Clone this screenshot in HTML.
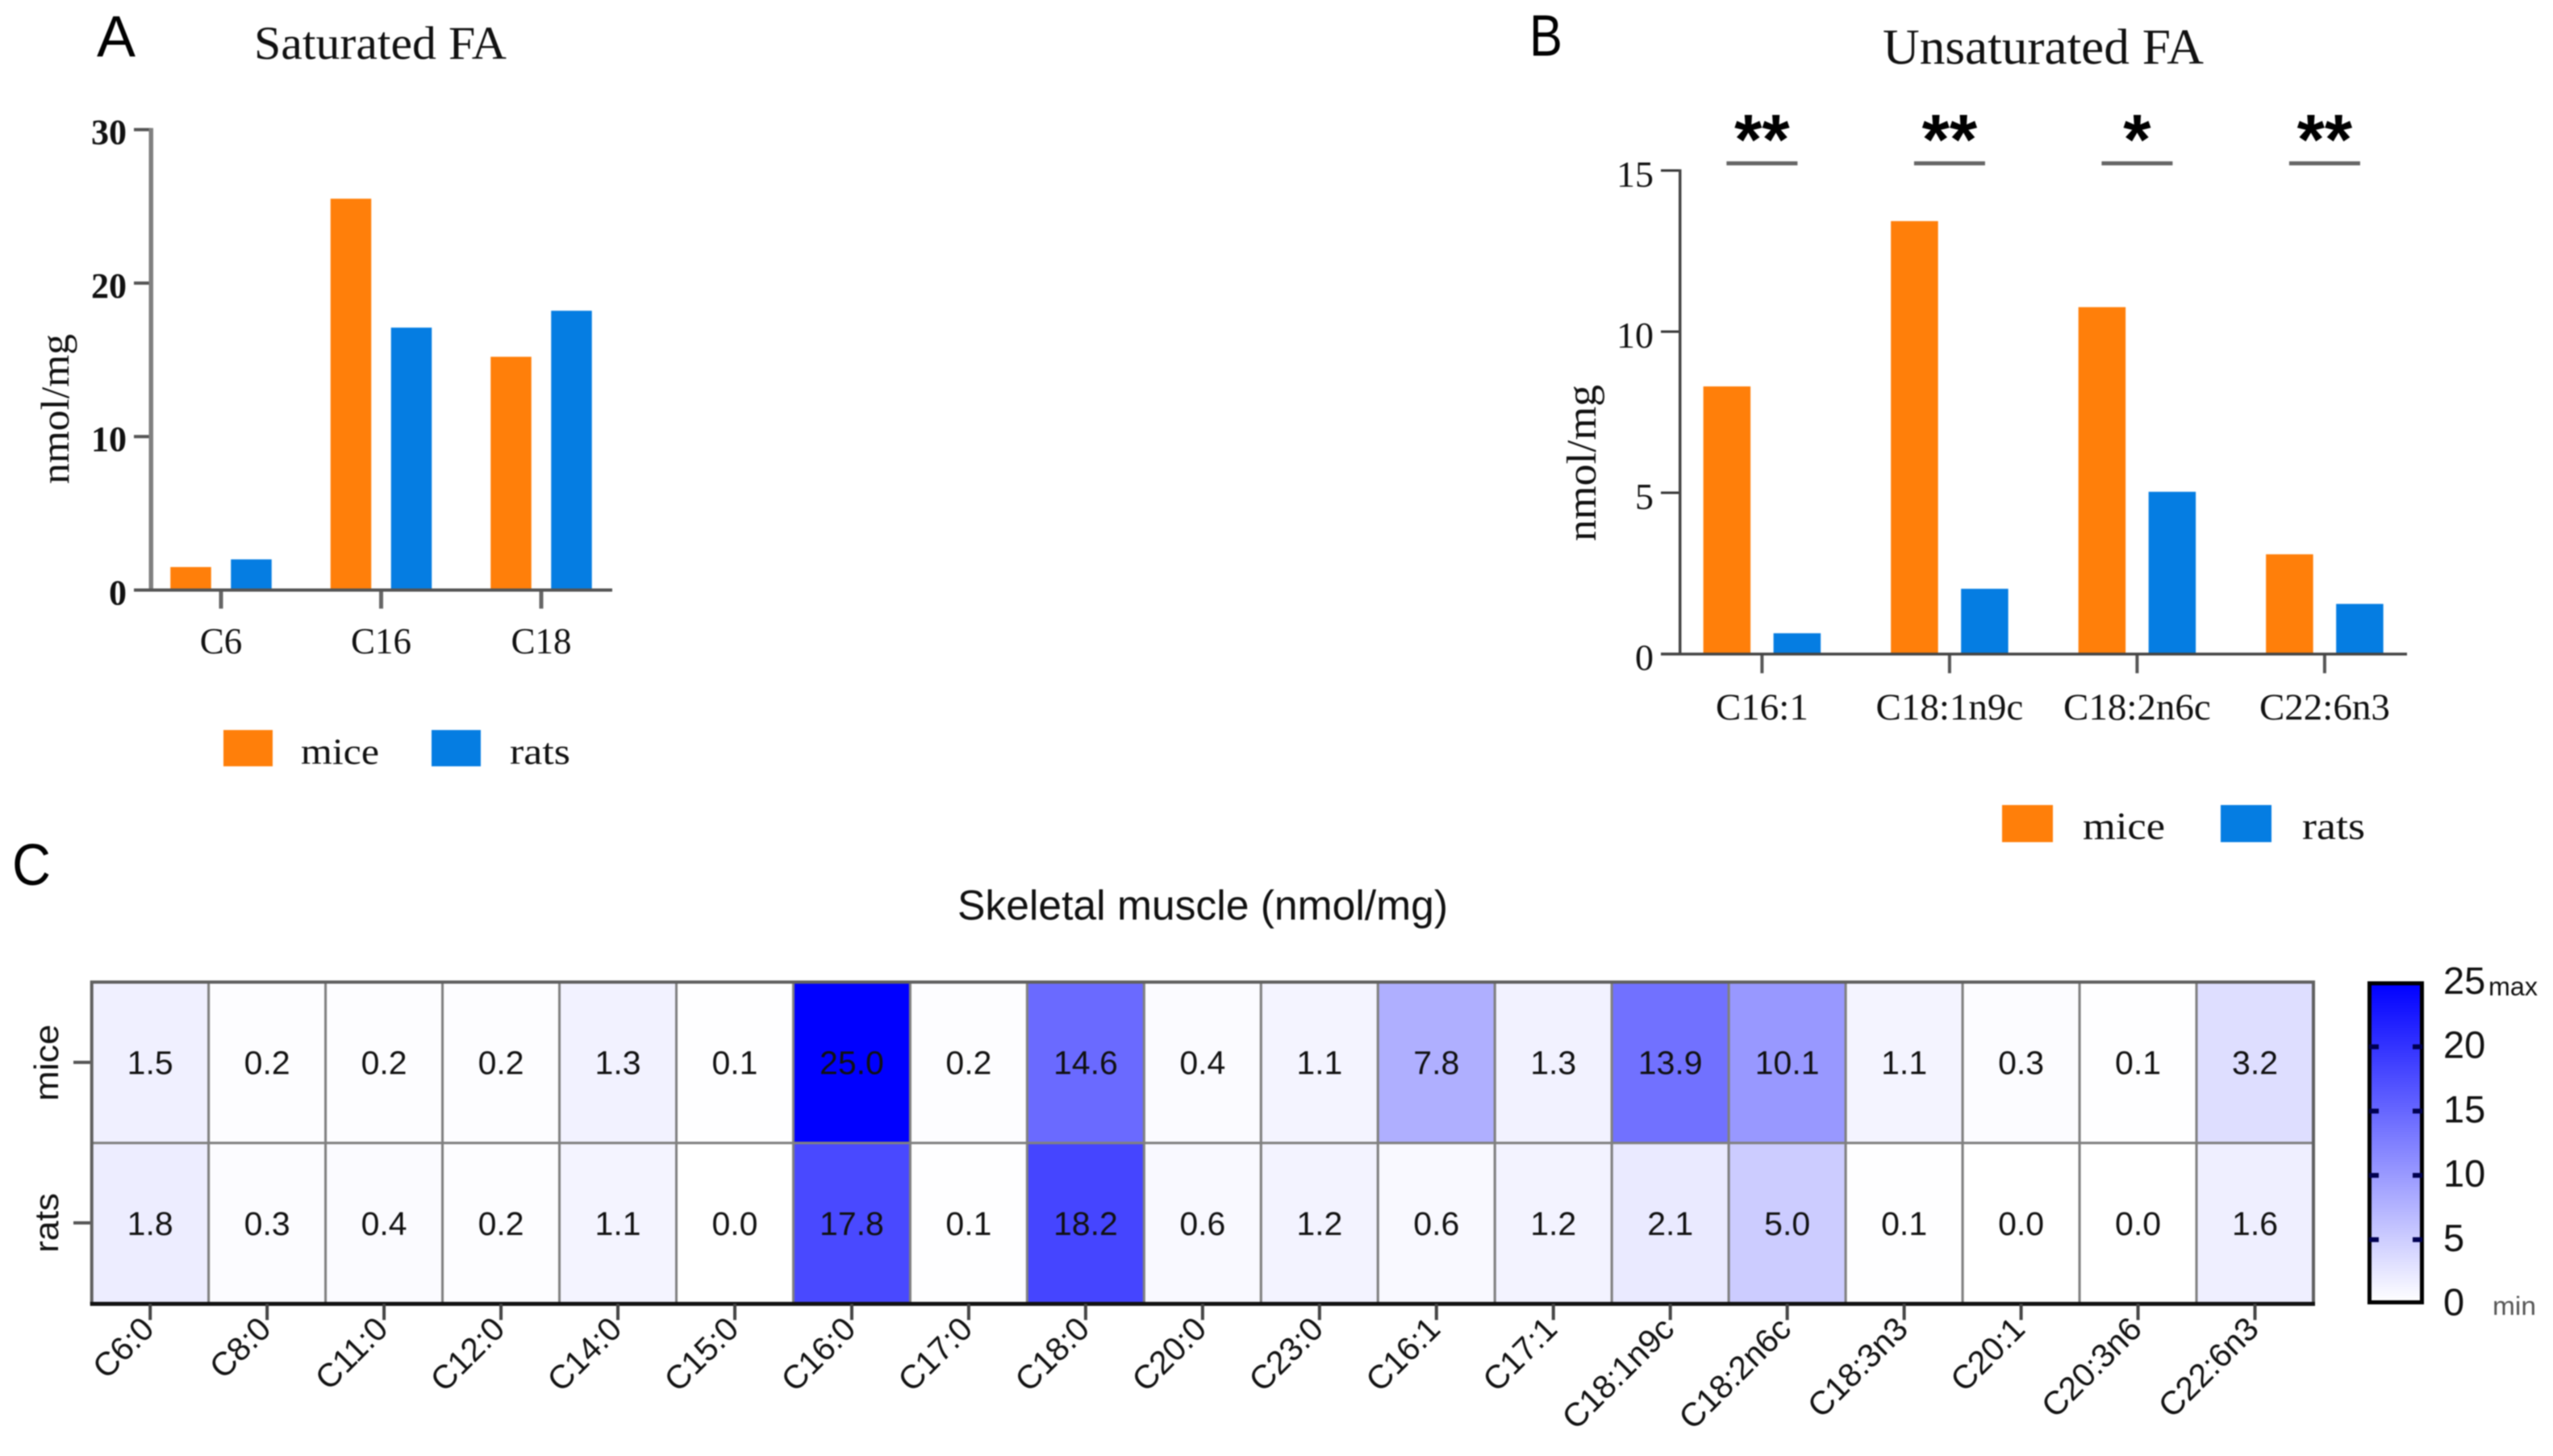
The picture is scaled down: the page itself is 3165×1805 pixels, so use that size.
<!DOCTYPE html>
<html lang="en">
<head>
<meta charset="utf-8">
<title>Fatty acid levels in mice and rats</title>
<style>
html,body{margin:0;padding:0;background:#fff;width:3165px;height:1805px;overflow:hidden}
svg{display:block;filter:blur(0.7px)}
.serif{font-family:"Liberation Serif",serif}
.sans{font-family:"Liberation Sans",sans-serif}
</style>
</head>
<body>
<svg id="fig" xmlns="http://www.w3.org/2000/svg" width="3165" height="1805" viewBox="0 0 3165 1805">
  <defs>
    <linearGradient id="cbGrad" x1="0" y1="0" x2="0" y2="1">
      <stop offset="0" stop-color="#0000ff"/>
      <stop offset="1" stop-color="#ffffff"/>
    </linearGradient>
  </defs>
  <rect x="0" y="0" width="3165" height="1805" fill="#fff"/>

  <text class="sans" x="120" y="70" font-size="72" fill="#000" textLength="48" lengthAdjust="spacingAndGlyphs">A</text>
  <text class="sans" x="1896" y="69" font-size="72" fill="#000" textLength="41" lengthAdjust="spacingAndGlyphs">B</text>
  <text class="sans" x="15" y="1097" font-size="72" fill="#000" textLength="48" lengthAdjust="spacingAndGlyphs">C</text>

  <text class="serif" x="315" y="73" font-size="58" fill="#111" textLength="313" lengthAdjust="spacingAndGlyphs">Saturated FA</text>
  <text class="serif" x="2334" y="79" font-size="62" fill="#111" textLength="398" lengthAdjust="spacingAndGlyphs">Unsaturated FA</text>
  <text class="sans" x="1187" y="1140" font-size="52" fill="#111" textLength="608" lengthAdjust="spacingAndGlyphs">Skeletal muscle (nmol/mg)</text>

  <text class="serif" transform="translate(85,600) rotate(-90)" font-size="50" fill="#111" textLength="186" lengthAdjust="spacingAndGlyphs">nmol/mg</text>
  <text class="serif" transform="translate(1978,671) rotate(-90)" font-size="52" fill="#111" textLength="194" lengthAdjust="spacingAndGlyphs">nmol/mg</text>

  <rect x="277" y="905" width="61" height="45" fill="#ff7f0a"/>
  <text class="serif" x="373" y="947" font-size="46" fill="#111" textLength="97" lengthAdjust="spacingAndGlyphs">mice</text>
  <rect x="535" y="905" width="61" height="45" fill="#057de2"/>
  <text class="serif" x="632" y="947" font-size="46" fill="#111" textLength="75" lengthAdjust="spacingAndGlyphs">rats</text>

  <rect x="2482" y="998" width="63" height="46" fill="#ff7f0a"/>
  <text class="serif" x="2582" y="1040" font-size="48" fill="#111" textLength="102" lengthAdjust="spacingAndGlyphs">mice</text>
  <rect x="2753" y="998" width="63" height="46" fill="#057de2"/>
  <text class="serif" x="2854" y="1040" font-size="48" fill="#111" textLength="78" lengthAdjust="spacingAndGlyphs">rats</text>

  <text class="sans" transform="translate(72,1365) rotate(-90)" font-size="42" fill="#111" textLength="95" lengthAdjust="spacingAndGlyphs">mice</text>
  <text class="sans" transform="translate(72,1553) rotate(-90)" font-size="42" fill="#111" textLength="74" lengthAdjust="spacingAndGlyphs">rats</text>
  <rect x="91" y="1315" width="22" height="4" fill="#555"/>
  <rect x="91" y="1514" width="22" height="4" fill="#555"/>

  <rect x="2937.5" y="1219" width="65" height="395.5" fill="url(#cbGrad)" stroke="#000" stroke-width="5"/>
  <text class="sans" x="3085" y="1234" font-size="32" fill="#111" textLength="61" lengthAdjust="spacingAndGlyphs">max</text>
  <text class="sans" x="3090" y="1630" font-size="32" fill="#555" textLength="54" lengthAdjust="spacingAndGlyphs">min</text>

  <g id="chartA"></g>
  <g id="chartB"></g>
  <g id="heat"></g>
  <g id="cbar"></g>
</svg>

<script>
// Panel A data
const satCategories = ['C6', 'C16', 'C18'];
const satMice = [1.5, 25.5, 15.2];
const satRats = [2.0, 17.1, 18.2];
const satTicks = [0, 10, 20, 30];

// Panel B data
const unsatCategories = ['C16:1', 'C18:1n9c', 'C18:2n6c', 'C22:6n3'];
const unsatMice = [8.3, 13.43, 10.76, 3.09];
const unsatRats = [0.64, 2.02, 5.03, 1.55];
const unsatTicks = [0, 5, 10, 15];
const unsatSignificance = ['**', '**', '*', '**'];

// Panel C data
const heatCategories = ['C6:0', 'C8:0', 'C11:0', 'C12:0', 'C14:0', 'C15:0', 'C16:0', 'C17:0', 'C18:0', 'C20:0', 'C23:0', 'C16:1', 'C17:1', 'C18:1n9c', 'C18:2n6c', 'C18:3n3', 'C20:1', 'C20:3n6', 'C22:6n3'];
const heatMice = [1.5, 0.2, 0.2, 0.2, 1.3, 0.1, 25.0, 0.2, 14.6, 0.4, 1.1, 7.8, 1.3, 13.9, 10.1, 1.1, 0.3, 0.1, 3.2];
const heatRats = [1.8, 0.3, 0.4, 0.2, 1.1, 0.0, 17.8, 0.1, 18.2, 0.6, 1.2, 0.6, 1.2, 2.1, 5.0, 0.1, 0.0, 0.0, 1.6];
const colorbarTicks = [0, 5, 10, 15, 20, 25];

const NS = 'http://www.w3.org/2000/svg';
const SERIF = '"Liberation Serif", serif';
const SANS = '"Liberation Sans", sans-serif';
const ORANGE = '#ff7f0a';
const BLUE = '#057de2';

function mk(parent, tag, attrs, txt) {
  const el = document.createElementNS(NS, tag);
  for (const k in attrs) el.setAttribute(k, attrs[k]);
  if (txt !== undefined) el.textContent = txt;
  parent.appendChild(el);
  return el;
}

// ---------- Panel A ----------
const gA = document.getElementById('chartA');
const yA = v => 731.5 - v * (731.5 - 160.7) / 30;
const xA = i => 274 + i * 198.5;
const barWA = 50.5;
const offA = 37.5;

satCategories.forEach((c, i) => {
  const m = mk(gA, 'rect', {x: xA(i) - offA - barWA / 2, y: yA(satMice[i]), width: barWA, height: yA(0) - yA(satMice[i]), fill: ORANGE});
  
  
  const r = mk(gA, 'rect', {x: xA(i) + offA - barWA / 2, y: yA(satRats[i]), width: barWA, height: yA(0) - yA(satRats[i]), fill: BLUE});
  
  
  const t = mk(gA, 'rect', {x: xA(i) - 2.5, y: yA(0), width: 5, height: 23, fill: '#666'});
  
  
  const l = mk(gA, 'text', {x: xA(i), y: 810, 'text-anchor': 'middle', 'font-family': SERIF, 'font-size': 45, fill: '#111'}, c);
  
  
});
satTicks.forEach(v => {
  const t = mk(gA, 'rect', {x: 166, y: yA(v) - 2, width: 21, height: 4, fill: '#555'});
  
  
  const l = mk(gA, 'text', {x: 157, y: yA(v) + 18, 'text-anchor': 'end', 'font-family': SERIF, 'font-weight': 'bold', 'font-size': 44, fill: '#111'}, String(v));
  
  
});
const axYA = mk(gA, 'rect', {x: 184.5, y: yA(30) - 2, width: 5.5, height: yA(0) - yA(30) + 4, fill: '#808080'});


const axXA = mk(gA, 'rect', {x: 166, y: yA(0) - 2, width: 593, height: 4, fill: '#555'});



// ---------- Panel B ----------
const gB = document.getElementById('chartB');
const yB = v => 810.6 - v * (810.6 - 211.4) / 15;
const xB = i => 2184.4 + i * 232.5;
const barWB = 58.5;
const offB = 43.5;

unsatCategories.forEach((c, i) => {
  const key = c.toLowerCase().replace(':', '-');
  const m = mk(gB, 'rect', {x: xB(i) - offB - barWB / 2, y: yB(unsatMice[i]), width: barWB, height: yB(0) - yB(unsatMice[i]), fill: ORANGE});
  
  
  const r = mk(gB, 'rect', {x: xB(i) + offB - barWB / 2, y: yB(unsatRats[i]), width: barWB, height: yB(0) - yB(unsatRats[i]), fill: BLUE});
  
  
  const t = mk(gB, 'rect', {x: xB(i) - 2, y: yB(0), width: 4, height: 24, fill: '#555'});
  
  
  const l = mk(gB, 'text', {x: xB(i), y: 892, 'text-anchor': 'middle', 'font-family': SERIF, 'font-size': 47, fill: '#111'}, c);
  
  
  const sb = mk(gB, 'rect', {x: xB(i) - 44, y: 200, width: 88, height: 5, fill: '#666'});
  
  
  const st = mk(gB, 'text', {x: xB(i), y: 203, 'text-anchor': 'middle', 'font-family': SANS, 'font-weight': 'bold', 'font-size': 88, fill: '#000'}, unsatSignificance[i]);
  
  
});
unsatTicks.forEach(v => {
  const t = mk(gB, 'rect', {x: 2059, y: yB(v) - 1.5, width: 23, height: 3, fill: '#333'});
  
  
  const l = mk(gB, 'text', {x: 2050, y: yB(v) + 20, 'text-anchor': 'end', 'font-family': SERIF, 'font-size': 46, fill: '#111'}, String(v));
  
  
});
const axYB = mk(gB, 'rect', {x: 2081, y: yB(15) - 1.5, width: 3.5, height: yB(0) - yB(15) + 3, fill: '#444'});


const axXB = mk(gB, 'rect', {x: 2059, y: yB(0) - 1.5, width: 925, height: 3.5, fill: '#444'});



// ---------- Panel C ----------
const gH = document.getElementById('heat');
const hLeft = 113.7, hRight = 2868, hTop = 1217.5, hBottom = 1616.4;
const cellW = (hRight - hLeft) / heatCategories.length;
const cellH = (hBottom - hTop) / 2;
const xH = i => hLeft + i * cellW;
const colorScale = v => {
  const t = Math.max(0, Math.min(1, v / 25));
  const c = Math.round(255 * (1 - t));
  return 'rgb(' + c + ',' + c + ',255)';
};
function drawRow(values, row, rowName) {
  values.forEach((v, i) => {
    const key = heatCategories[i].toLowerCase().replace(':', '-');
    const c = mk(gH, 'rect', {x: xH(i), y: hTop + row * cellH, width: cellW, height: cellH, fill: colorScale(v), stroke: '#808080', 'stroke-width': 3});
    
    
  });
  values.forEach((v, i) => {
    const key = heatCategories[i].toLowerCase().replace(':', '-');
    const t = mk(gH, 'text', {x: xH(i) + cellW / 2, y: hTop + row * cellH + 114, 'text-anchor': 'middle', 'font-family': SANS, 'font-size': 41, fill: '#111'}, v.toFixed(1));
    
    
  });
}
drawRow(heatMice, 0, 'mice');
drawRow(heatRats, 1, 'rats');

const frame = mk(gH, 'path', {d: 'M' + hLeft + ' ' + hBottom + 'V' + hTop + 'H' + hRight + 'V' + hBottom, fill: 'none', stroke: '#606060', 'stroke-width': 4});


const hAxis = mk(gH, 'rect', {x: hLeft - 2, y: hBottom - 2.5, width: hRight - hLeft + 4, height: 5, fill: '#111'});



heatCategories.forEach((c, i) => {
  const key = c.toLowerCase().replace(':', '-');
  const cx = xH(i) + cellW / 2;
  const t = mk(gH, 'rect', {x: cx - 2, y: hBottom, width: 4, height: 20, fill: '#444'});
  
  
  const l = mk(gH, 'text', {transform: 'translate(' + (cx + 7) + ',1650) rotate(-45)', 'text-anchor': 'end', 'font-family': SANS, 'font-size': 41, fill: '#111'}, c);
  
  
});

// ---------- Colorbar ----------
const gC = document.getElementById('cbar');
const yC = v => 1616.5 - v * (1616.5 - 1218) / 25;
colorbarTicks.forEach(v => {
  if (v > 0 && v < 25) {
    const a = mk(gC, 'rect', {x: 2937, y: yC(v) - 3, width: 12, height: 6, fill: '#000050'});
    
    
    const b = mk(gC, 'rect', {x: 2991, y: yC(v) - 3, width: 12, height: 6, fill: '#000050'});
    
    
  }
  const l = mk(gC, 'text', {x: 3029, y: yC(v) + 14, 'font-family': SANS, 'font-size': 47, fill: '#111'}, String(v));
  
  
});
</script>
</body>
</html>
